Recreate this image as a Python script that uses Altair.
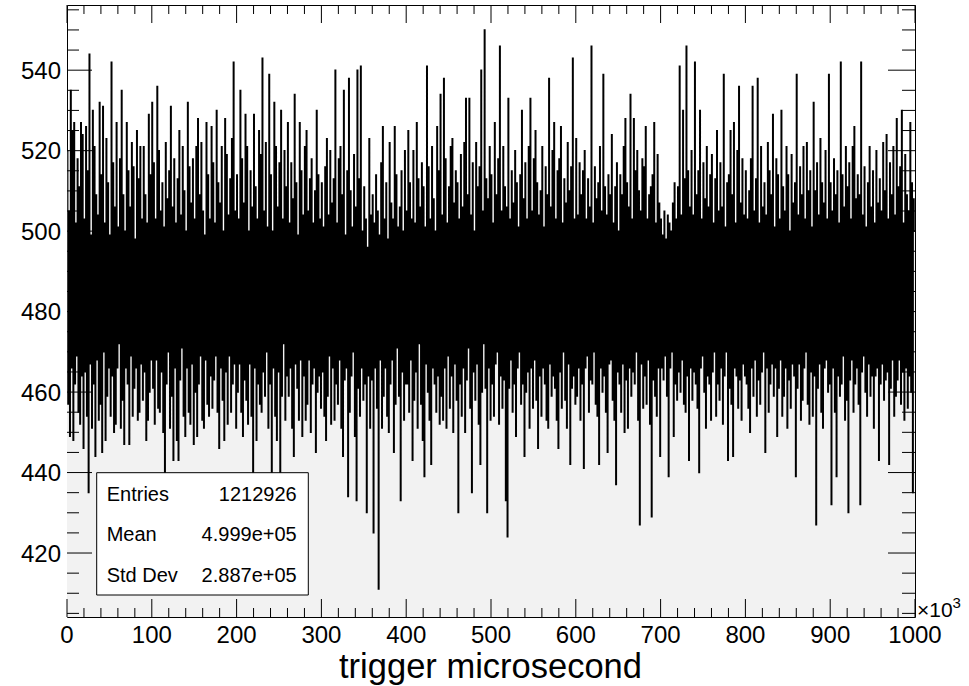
import altair as alt
import pandas as pd

# Histogram bin contents (entries per bin).
# Each list covers 100 x 10^3 microseconds (100 bins of 1 x 10^3).
seg_000 = [520,457,505,449,535,466,525,448,527,462,502,469,518,455,511,452,527,464,524,446,
           503,465,526,454,515,435,544,467,499,451,530,462,521,444,509,468,504,453,532,457,
           514,445,531,470,502,448,523,459,512,466,499,454,542,464,517,450,506,452,527,466,
           501,472,518,451,535,458,509,447,500,466,527,462,515,447,506,469,522,454,516,461,
           498,466,525,453,513,455,521,467,503,458,521,465,509,448,502,453,529,460,514,468]
seg_100 = [532,461,517,452,503,468,536,456,520,455,505,465,512,450,501,440,522,462,508,470,
           515,451,531,459,506,443,518,466,502,448,513,443,525,463,504,471,521,454,510,449,
           500,466,532,455,516,452,507,467,518,447,503,460,521,449,528,462,509,469,522,453,
           505,451,499,468,527,457,514,454,503,464,526,456,517,463,502,469,530,455,512,446,
           507,466,521,458,500,448,528,465,519,452,504,469,513,455,523,462,542,467,505,451]
seg_200 = [514,460,503,467,535,455,518,449,507,463,529,458,521,452,500,467,515,454,506,440,
           529,466,511,448,503,462,525,457,519,455,543,465,505,459,522,470,501,451,539,462,
           514,439,500,466,532,454,521,448,506,465,517,439,530,459,503,472,520,453,511,464,
           527,459,502,466,517,451,508,444,534,467,512,461,499,453,527,468,515,449,504,464,
           521,453,525,457,505,468,513,450,518,462,502,466,510,445,530,460,514,464,503,456]
seg_300 = [512,465,501,454,516,448,523,459,504,469,520,452,507,466,513,453,540,462,502,457,
           518,468,521,451,509,444,535,463,499,466,515,434,538,455,510,464,501,470,519,449,
           506,433,540,461,513,454,541,466,500,458,511,462,503,430,496,464,523,451,504,463,
           509,425,502,466,514,456,505,411,499,468,517,451,526,459,503,466,512,454,498,450,
           522,462,507,468,503,445,526,457,514,471,501,459,506,433,515,465,500,453,520,462]
seg_400 = [505,462,525,455,512,468,503,443,520,458,502,465,527,451,513,472,506,457,517,448,
           511,439,501,467,541,460,516,453,503,442,521,466,508,462,500,455,526,464,515,452,
           534,459,504,453,538,466,518,451,502,469,511,456,521,464,523,450,507,467,515,458,
           512,430,503,462,519,454,506,466,522,450,533,463,509,471,533,456,504,435,517,465,
           500,458,522,467,511,452,516,442,540,460,505,472,550,461,513,430,508,466,521,453]
seg_500 = [514,462,502,454,527,467,509,470,518,452,546,464,505,456,521,463,511,433,506,424,
           533,461,503,468,515,455,507,462,520,449,512,466,501,470,514,457,530,462,508,444,
           517,460,503,465,521,451,533,466,505,456,518,468,525,458,512,446,504,464,510,454,
           521,466,501,462,516,453,509,451,538,467,506,459,520,464,527,461,503,453,515,446,
           518,465,526,456,502,470,513,458,507,451,522,467,510,442,516,461,543,464,503,457]
seg_600 = [523,459,504,466,517,453,509,462,515,441,520,466,503,469,513,455,506,463,546,462,
           502,470,516,457,508,454,512,442,521,466,505,460,539,464,511,455,504,445,514,467,
           509,468,524,458,502,453,511,437,517,465,500,462,514,455,509,467,521,450,528,463,
           512,451,506,466,534,459,503,465,528,462,515,470,520,453,510,427,505,467,518,456,
           516,464,526,457,503,468,509,452,511,429,514,463,527,459,502,454,519,466,507,444]
seg_700 = [503,466,499,463,505,469,498,459,504,439,502,466,500,470,507,449,512,462,503,458,
           511,465,541,460,504,468,530,457,513,455,546,464,515,443,506,466,520,458,504,465,
           542,462,509,456,515,440,530,466,503,469,517,460,508,451,521,464,506,462,514,453,
           519,465,502,470,513,454,525,462,505,458,517,466,506,452,539,464,501,470,512,443,
           514,461,525,457,509,444,527,466,502,464,520,456,536,463,507,453,518,467,504,464]
seg_800 = [515,462,503,456,510,450,518,466,536,459,505,468,513,454,538,463,502,457,521,465,
           506,470,512,445,504,466,522,455,515,462,509,467,529,459,501,466,518,449,514,461,
           503,468,530,454,511,459,505,466,521,451,514,463,500,456,519,467,507,464,512,439,
           539,461,504,467,516,453,509,458,521,466,503,470,522,457,510,452,515,465,501,454,
           532,464,510,427,517,461,504,467,523,455,512,451,507,466,520,468,503,460,539,462]
seg_900 = [512,432,505,466,518,455,509,439,515,464,502,459,542,462,514,469,506,453,521,458,
           511,430,517,463,503,468,521,455,526,462,508,466,514,457,509,432,542,465,504,469,
           516,460,501,454,512,467,521,459,506,464,515,451,502,464,520,466,507,443,513,462,
           505,467,522,458,510,463,524,465,503,442,517,461,509,468,521,454,504,459,528,463,
           511,468,516,457,530,465,502,453,519,466,509,456,505,464,527,460,512,435,508,500]

BIN_WIDTH = 1  # in units of 10^3 microseconds

x_labels = [0, 100, 200, 300, 400, 500, 600, 700, 800, 900, 1000]
x_minor = [v for v in range(0, 1001, 20) if v % 100 != 0]
y_labels = [420, 440, 460, 480, 500, 520, 540]
y_minor = [v for v in range(405, 556, 5) if v % 20 != 0]

stat_names = ["Entries", "Mean", "Std Dev"]
stat_values = ["1212926", "4.999e+05", "2.887e+05"]
x_title = "trigger microsecond"

counts = seg_000 + seg_100 + seg_200 + seg_300 + seg_400 + seg_500 + seg_600 + seg_700 + seg_800 + seg_900
n = len(counts)
hist = pd.DataFrame({
    "x": [i * BIN_WIDTH for i in range(n)] + [n * BIN_WIDTH],
    "y": counts + [counts[-1]],
})

Y_MIN, Y_MAX = 404.1, 556.2
W, H = 848, 612
FONT = "Liberation Sans"
xs = alt.Scale(domain=[0, 1000], nice=False, zero=False)
ys = alt.Scale(domain=[Y_MIN, Y_MAX], nice=False, zero=False)

area = alt.Chart(hist).mark_area(interpolate="step-after", color="#f2f2f2", clip=True).encode(
    x=alt.X("x:Q", scale=xs, axis=None),
    y=alt.Y("y:Q", scale=ys, axis=None),
    y2=alt.datum(Y_MIN),
)

line = alt.Chart(hist).mark_line(interpolate="step-after", color="black", strokeWidth=1.15, clip=True).encode(
    x=alt.X("x:Q", scale=xs, axis=None),
    y=alt.Y("y:Q", scale=ys, axis=None),
)


def xticks(vals, length, top):
    y0 = 0 if top else H
    y1 = length if top else H - length
    return alt.Chart(pd.DataFrame({"v": vals})).mark_rule(color="black", strokeWidth=1).encode(
        x=alt.X("v:Q", scale=xs, axis=None), y=alt.value(y0), y2=alt.value(y1))


def yticks(vals, length, right):
    x0 = W if right else 0
    x1 = W - length if right else length
    return alt.Chart(pd.DataFrame({"v": vals})).mark_rule(color="black", strokeWidth=1).encode(
        y=alt.Y("v:Q", scale=ys, axis=None), x=alt.value(x0), x2=alt.value(x1))


ticks = [
    xticks(x_labels, 18, False), xticks(x_minor, 9, False),
    xticks(x_labels, 18, True), xticks(x_minor, 9, True),
    yticks(y_labels, 25, False), yticks(y_minor, 12, False),
    yticks(y_labels, 27, True), yticks(y_minor, 13, True),
]

xlab = alt.Chart(pd.DataFrame({"v": x_labels, "t": [str(v) for v in x_labels]})).mark_text(
    align="center", baseline="alphabetic", font=FONT, fontSize=24, color="black").encode(
    x=alt.X("v:Q", scale=xs, axis=None), y=alt.value(638.3), text="t:N")
ylab = alt.Chart(pd.DataFrame({"v": y_labels, "t": [str(v) for v in y_labels]})).mark_text(
    align="right", baseline="alphabetic", font=FONT, fontSize=24, color="black", dy=8.6).encode(
    y=alt.Y("v:Q", scale=ys, axis=None), x=alt.value(-6), text="t:N")

one = pd.DataFrame({"a": [0]})
box = alt.Chart(one).mark_rect(fill="white", stroke="black", strokeWidth=1).encode(
    x=alt.value(29.7), x2=alt.value(241.3), y=alt.value(467.7), y2=alt.value(590))

texts = []
for i, (nm, val) in enumerate(zip(stat_names, stat_values)):
    yb = 495.7 + i * 40.5
    texts.append(alt.Chart(one).mark_text(align="left", baseline="alphabetic", font=FONT, fontSize=20,
                                          color="black").encode(x=alt.value(39.7), y=alt.value(yb), text=alt.value(nm)))
    texts.append(alt.Chart(one).mark_text(align="right", baseline="alphabetic", font=FONT, fontSize=20,
                                          color="black").encode(x=alt.value(229.7), y=alt.value(yb), text=alt.value(val)))

title = alt.Chart(one).mark_text(align="center", baseline="alphabetic", font=FONT, fontSize=34.5, color="black").encode(
    x=alt.value(423.5), y=alt.value(672.5), text=alt.value(x_title))
mult = alt.Chart(one).mark_text(align="left", baseline="alphabetic", font=FONT, fontSize=21, color="black").encode(
    x=alt.value(850), y=alt.value(612), text=alt.value("×10"))
expo = alt.Chart(one).mark_text(align="left", baseline="alphabetic", font=FONT, fontSize=15, color="black").encode(
    x=alt.value(885.5), y=alt.value(602.5), text=alt.value("3"))

chart = alt.layer(area, line, *ticks, xlab, ylab, box, *texts, title, mult, expo).properties(
    width=W, height=H,
    autosize=alt.AutoSizeParams(type="none"),
    padding={"left": 67, "top": 5, "right": 54, "bottom": 69},
    background="white",
).configure_view(stroke="black", strokeWidth=1)

chart.save("out.html", embed_options={"renderer": "svg", "actions": False})
